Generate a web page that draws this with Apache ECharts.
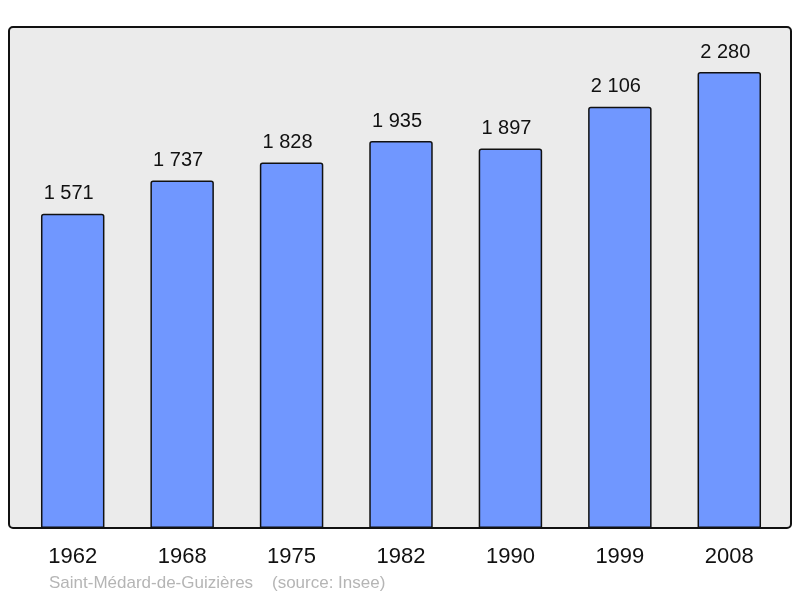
<!DOCTYPE html>
<html>
<head>
<meta charset="utf-8">
<script src="https://cdn.jsdelivr.net/npm/echarts@6/dist/echarts.min.js"></script>
<style>
  html, body { margin: 0; padding: 0; background: #fff; }
  #chart { width: 800px; height: 598px; }
</style>
</head>
<body>
<div id="chart"></div>
<script>
// population par recensement
const years = ['1962', '1968', '1975', '1982', '1990', '1999', '2008'];
const population = [1571, 1737, 1828, 1935, 1897, 2106, 2280];
const footerText = 'Saint-Médard-de-Guizières    (source: Insee)';

const fmt = v => String(v).replace(/\B(?=(\d{3})+(?!\d))/g, ' ');

const chart = echarts.init(document.getElementById('chart'), null, { renderer: 'canvas' });

chart.setOption({
  animation: false,
  textStyle: { fontFamily: 'Liberation Sans, Arial, sans-serif' },
  graphic: [
    {
      type: 'rect',
      z: -10,
      shape: { x: 9, y: 27, width: 782, height: 501, r: 4 },
      style: { fill: '#ebebeb', stroke: '#111', lineWidth: 2 }
    },
    {
      type: 'text',
      left: 49,
      top: 575,
      style: {
        text: footerText,
        fill: '#b5b5b5',
        font: '17px "Liberation Sans", Arial, sans-serif'
      }
    }
  ],
  grid: { left: 18, right: 16, top: 28, bottom: 70 },
  xAxis: {
    type: 'category',
    data: years,
    axisLine: { show: false },
    axisTick: { show: false },
    axisLabel: { color: '#111', fontSize: 22, margin: 18 }
  },
  yAxis: {
    type: 'value',
    min: 0,
    max: 2500,
    show: false,
    splitLine: { show: false }
  },
  series: [{
    type: 'bar',
    data: population,
    barWidth: '58%',
    itemStyle: {
      color: '#7097ff',
      borderColor: '#111',
      borderWidth: 1.5,
      borderRadius: [2, 2, 0, 0]
    },
    label: {
      show: true,
      position: 'top',
      distance: 10,
      offset: [-4, 0],
      color: '#111',
      fontSize: 20,
      formatter: p => fmt(p.value)
    }
  }]
});
</script>
</body>
</html>
